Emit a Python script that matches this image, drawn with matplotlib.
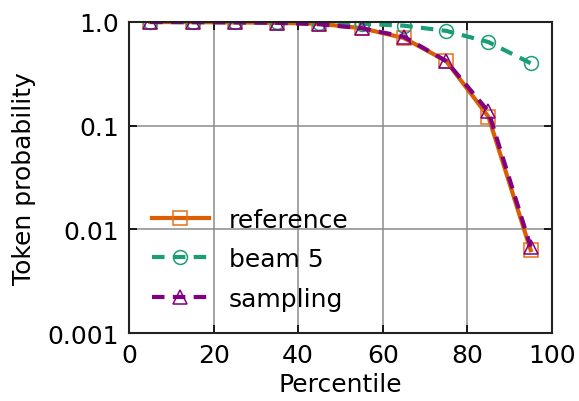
import matplotlib
matplotlib.use('agg')
import matplotlib.pyplot as plt
from matplotlib.ticker import FixedLocator, FixedFormatter, NullLocator

percentile = [5, 15, 25, 35, 45, 55, 65, 75, 85, 95]
reference = [0.998, 0.995, 0.99, 0.98, 0.96, 0.87, 0.70, 0.42, 0.122, 0.0063]
beam5 = [0.999, 0.998, 0.995, 0.99, 0.98, 0.96, 0.92, 0.82, 0.64, 0.40]
sampling = [0.998, 0.995, 0.99, 0.98, 0.95, 0.87, 0.72, 0.42, 0.137, 0.0068]

y_ticks = [0.001, 0.01, 0.1, 1.0]
y_labels = ['0.001', '0.01', '0.1', '1.0']

plt.rcParams['font.size'] = 18

fig, ax = plt.subplots(figsize=(5.79, 4.02), dpi=100)
fig.subplots_adjust(left=0.223, right=0.953, top=0.943, bottom=0.169)

ax.plot(percentile, reference, color='#d95f02', lw=3, ls='-', marker='s',
        ms=10, mfc='none', mec='#e8701a', mew=1.1, label='reference')
ax.plot(percentile, beam5, color='#1b9e77', lw=3, ls='--', marker='o',
        ms=10, mfc='none', mew=1.1, label='beam 5', dashes=(3, 2))
ax.plot(percentile, sampling, color='#800080', lw=3, ls='--', marker='^',
        ms=10, mfc='none', mew=1.1, label='sampling', dashes=(3, 2))

ax.set_yscale('log')
ax.set_ylim(0.001, 1.0)
ax.set_xlim(0, 100)
ax.set_xticks([0, 20, 40, 60, 80, 100])
ax.yaxis.set_major_locator(FixedLocator(y_ticks))
ax.yaxis.set_major_formatter(FixedFormatter(y_labels))
ax.yaxis.set_minor_locator(NullLocator())

ax.grid(True, color='#8c8c8c', lw=1.1)
ax.tick_params(direction='in', top=True, right=True, length=6, width=1.2)
ax.tick_params(axis='y', pad=7.5)
ax.tick_params(axis='x', pad=7.5)
for s in ax.spines.values():
    s.set_linewidth(1.5)
    s.set_color('#222222')

ax.set_xlabel('Percentile', labelpad=3)
ax.set_ylabel('Token probability', labelpad=8)
ax.legend(loc='lower left', frameon=False, handlelength=2.3, labelspacing=0.62)

plt.savefig('out.png')
